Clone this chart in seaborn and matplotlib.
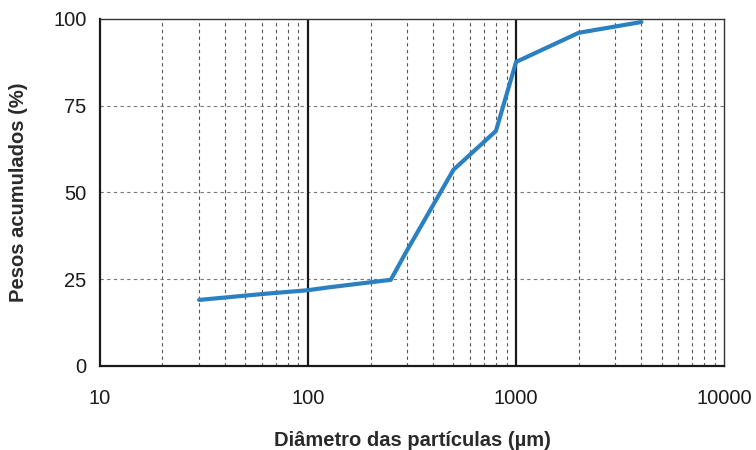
import matplotlib
matplotlib.use("Agg")
import matplotlib.pyplot as plt
import pandas as pd
import seaborn as sns
from matplotlib.ticker import LogLocator, FixedLocator, NullFormatter

# particle size distribution (cumulative)
diametro = [30, 63, 100, 125, 250, 300, 500, 800, 1000, 2000, 4000]
pesos = [19, 20.8, 21.8, 22.6, 24.8, 33.4, 56.5, 67.7, 87.6, 96, 99.1]
y_ticks = [0, 25, 50, 75, 100]
x_ticks = [10, 100, 1000, 10000]
x_labels = ["10", "100", "1000", "10000"]

df = pd.DataFrame({"Diametro": diametro, "Pesos": pesos})

sns.set_style("white")
plt.rcParams["font.family"] = ["Liberation Sans", "DejaVu Sans"]

fig = plt.figure(figsize=(7.56, 4.5), dpi=100)
ax = fig.add_axes([0.132, 0.187, 0.826, 0.771])

sns.lineplot(data=df, x="Diametro", y="Pesos", ax=ax, color="#2b80c2",
             linewidth=3, zorder=5)

ax.set_xscale("log")
ax.set_xlim(10, 10000)
ax.set_ylim(0, 100)

ax.xaxis.set_major_locator(FixedLocator(x_ticks))
ax.set_xticklabels(x_labels)
ax.xaxis.set_minor_locator(LogLocator(base=10, subs=range(2, 10)))
ax.xaxis.set_minor_formatter(NullFormatter())
ax.set_yticks(y_ticks)

# grid: solid decades, dashed minors and horizontals
ax.grid(False)
for xv in [100, 1000]:
    ax.axvline(xv, color="#1a1a1a", linewidth=1.6, zorder=2)
ax.grid(which="minor", axis="x", color="#555555", linestyle=(0, (3, 3)),
        linewidth=0.8)
for yv in [25, 50, 75]:
    ax.axhline(yv, color="#777777", linestyle=(0, (3, 3)), linewidth=0.8,
               zorder=1)

for side in ["left", "bottom"]:
    ax.spines[side].set_color("#1a1a1a")
    ax.spines[side].set_linewidth(1.6)
for side in ["top", "right"]:
    ax.spines[side].set_color("#333333")
    ax.spines[side].set_linewidth(1.0)

ax.tick_params(axis="both", which="major", direction="out", length=6,
               width=1.4, color="#1a1a1a", labelsize=14.5,
               labelcolor="#1a1a1a")
ax.tick_params(axis="x", which="minor", length=0)
ax.tick_params(axis="x", which="major", pad=11)

ax.set_xlabel("Diâmetro das partículas (µm)", fontsize=14.5,
              fontweight="bold", color="#2a2a2a", labelpad=16)
ax.set_ylabel("Pesos acumulados (%)", fontsize=14.5, fontweight="bold",
              color="#2a2a2a", labelpad=18)

fig.savefig("out.png", dpi=100)
